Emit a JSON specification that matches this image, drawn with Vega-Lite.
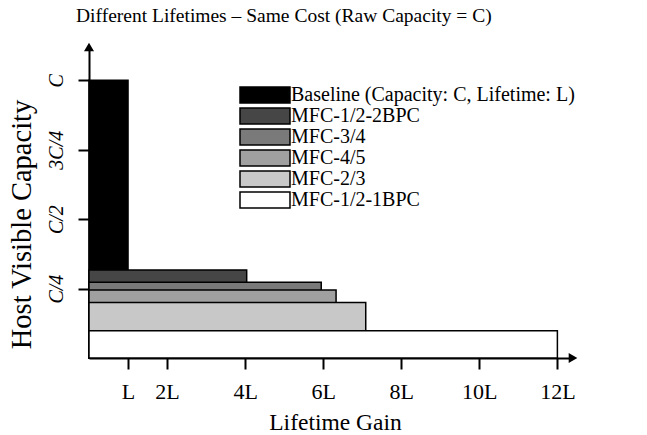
{
  "$schema": "https://vega.github.io/schema/vega-lite/v6.json",
  "width": 484,
  "height": 311,
  "autosize": "none",
  "padding": {"left": 89, "top": 47, "right": 74, "bottom": 77},
  "background": "white",
  "title": {
    "text": "Different Lifetimes – Same Cost (Raw Capacity = C)",
    "anchor": "start",
    "frame": "group",
    "dx": -13,
    "dy": 4,
    "font": "Liberation Serif",
    "fontSize": 19.5,
    "fontWeight": "normal",
    "color": "black",
    "offset": 20
  },
  "config": {
    "font": "Liberation Serif",
    "view": {"stroke": null},
    "axis": {
      "grid": false,
      "domainColor": "black",
      "domainWidth": 2,
      "tickColor": "black",
      "tickWidth": 2,
      "tickSize": 11,
      "labelColor": "black",
      "labelFont": "Liberation Serif",
      "labelFontSize": 20,
      "titleColor": "black",
      "titleFont": "Liberation Serif",
      "titleFontSize": 20,
      "titleFontWeight": "normal"
    }
  },
  "layer": [
    {
      "data": {
        "values": [
          {"config": "Baseline (Capacity: C, Lifetime: L)", "lifetime": 1.0, "capacity": 1.0},
          {"config": "MFC-1/2-2BPC", "lifetime": 4.04, "capacity": 0.317},
          {"config": "MFC-3/4", "lifetime": 5.95, "capacity": 0.273},
          {"config": "MFC-4/5", "lifetime": 6.33, "capacity": 0.245},
          {"config": "MFC-2/3", "lifetime": 7.09, "capacity": 0.2},
          {"config": "MFC-1/2-1BPC", "lifetime": 12.0, "capacity": 0.098}
        ]
      },
      "mark": {"type": "rect", "stroke": "black", "strokeWidth": 1.5},
      "encoding": {
        "x": {
          "field": "lifetime",
          "type": "quantitative",
          "scale": {"domain": [0, 12.4], "nice": false, "zero": true},
          "axis": {
            "title": "Lifetime Gain",
            "values": [1, 2, 4, 6, 8, 10, 12],
            "labelExpr": "datum.value == 1 ? 'L' : datum.value + 'L'",
            "labelFontSize": 22,
            "labelPadding": 12,
            "titleFontSize": 23.5,
            "titlePadding": 8,
            "titleX": 246
          }
        },
        "x2": {"datum": 0},
        "y": {
          "field": "capacity",
          "type": "quantitative",
          "scale": {"domain": [0, 1.12], "nice": false, "zero": true},
          "axis": {
            "title": "Host Visible Capacity",
            "values": [0.25, 0.5, 0.75, 1],
            "labelExpr": "datum.value == 1 ? 'C' : datum.value == 0.75 ? '3C/4' : datum.value == 0.5 ? 'C/2' : 'C/4'",
            "labelAngle": -90,
            "labelFontStyle": "italic",
            "labelPadding": 12,
            "titleFontSize": 28.5,
            "titlePadding": 10,
            "titleY": 177
          }
        },
        "y2": {"datum": 0},
        "fill": {
          "field": "config",
          "type": "nominal",
          "sort": null,
          "scale": {
            "domain": ["Baseline (Capacity: C, Lifetime: L)", "MFC-1/2-2BPC", "MFC-3/4", "MFC-4/5", "MFC-2/3", "MFC-1/2-1BPC"],
            "range": ["#000000", "#464646", "#7a7a7a", "#a0a0a0", "#c8c8c8", "#ffffff"]
          },
          "legend": {
            "title": null,
            "orient": "none",
            "legendX": 166,
            "legendY": 38,
            "symbolType": "M-5,-1.6H5V1.6H-5Z",
            "symbolSize": 100,
            "symbolStrokeColor": "black",
            "symbolStrokeWidth": 1.5,
            "symbolOpacity": 1,
            "labelFont": "Liberation Serif",
            "labelFontSize": 20,
            "labelColor": "black",
            "labelOffset": 16,
            "rowPadding": -1.5,
            "labelLimit": 400
          }
        }
      }
    },
    {
      "data": {"values": [{"lifetime": 0, "capacity": 1.12}]},
      "mark": {"type": "point", "shape": "triangle-up", "filled": true, "color": "black", "size": 100, "opacity": 1},
      "encoding": {
        "x": {"field": "lifetime", "type": "quantitative"},
        "y": {"field": "capacity", "type": "quantitative"}
      }
    },
    {
      "data": {"values": [{"lifetime": 12.4, "capacity": 0}]},
      "mark": {"type": "point", "shape": "triangle-right", "filled": true, "color": "black", "size": 100, "opacity": 1},
      "encoding": {
        "x": {"field": "lifetime", "type": "quantitative"},
        "y": {"field": "capacity", "type": "quantitative"}
      }
    }
  ]
}
